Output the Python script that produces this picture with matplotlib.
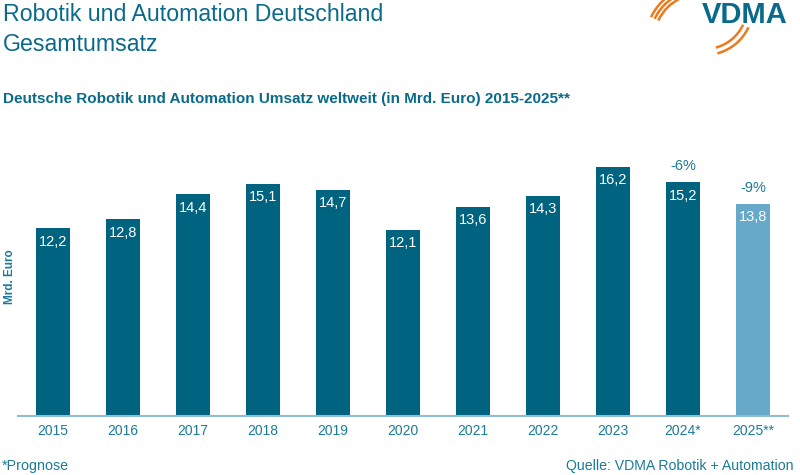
import matplotlib.pyplot as plt
from matplotlib.patches import Arc

plt.rcParams['font.family'] = ['Liberation Sans', 'DejaVu Sans']

years = ['2015', '2016', '2017', '2018', '2019', '2020', '2021', '2022', '2023', '2024*', '2025**']
umsatz = [12.2, 12.8, 14.4, 15.1, 14.7, 12.1, 13.6, 14.3, 16.2, 15.2, 13.8]
prognose = [False] * 10 + [True]
veraenderung = {9: '-6%', 10: '-9%'}

dark = '#00637f'
light = '#66a9c8'
teal = '#1b7b98'
title_col = '#0a6a8a'
orange = '#ec7a1c'

fig = plt.figure(figsize=(8, 4.75), dpi=100)
ax = fig.add_axes([0.0225, 0.1242, 0.9625, 0.648])

colors = [light if p else dark for p in prognose]
bars = ax.bar(range(len(years)), umsatz, width=0.485, color=colors)

for i, (b, v) in enumerate(zip(bars, umsatz)):
    ax.annotate(f'{v:.1f}'.replace('.', ','), (b.get_x() + b.get_width() / 2, v),
                xytext=(0, -13.5), textcoords='offset pixels',
                ha='center', va='center', color='white', fontsize=10.5)
    if i in veraenderung:
        ax.annotate(veraenderung[i], (b.get_x() + b.get_width() / 2, v),
                    xytext=(0, 16), textcoords='offset pixels',
                    ha='center', va='center', color=teal, fontsize=10.5)

ax.set_xlim(-0.5, 10.5)
ax.set_ylim(0, 20)
ax.set_xticks(range(len(years)))
ax.set_xticklabels(years, fontsize=10, color=teal)
ax.tick_params(axis='x', length=0, pad=6)
ax.set_yticks([])
for s in ['top', 'right', 'left']:
    ax.spines[s].set_visible(False)
ax.spines['bottom'].set_color('#8fbfcf')
ax.spines['bottom'].set_linewidth(1.5)

# texts and logo in pixel coordinates
ov = fig.add_axes([0, 0, 1, 1], facecolor='none')
ov.set_xlim(0, 800)
ov.set_ylim(0, 475)
ov.axis('off')

ov.text(3, 475 - 21, 'Robotik und Automation Deutschland', fontsize=16.7,
        color=title_col, va='baseline')
ov.text(3, 475 - 51, 'Gesamtumsatz', fontsize=16.7, color=title_col, va='baseline')
ov.text(3, 475 - 103, 'Deutsche Robotik und Automation Umsatz weltweit (in Mrd. Euro) 2015-2025**',
        fontsize=11, fontweight='bold', color=title_col, va='baseline')
ov.text(10, 475 - 277, 'Mrd. Euro', fontsize=8.5, fontweight='bold', color=teal,
        rotation=90, ha='center', va='center')
ov.text(2, 475 - 470, '*Prognose', fontsize=10.3, color=teal, va='baseline')
ov.text(793, 475 - 470, 'Quelle: VDMA Robotik + Automation', fontsize=10.2,
        color=teal, va='baseline', ha='right')

ov.text(702, 475 - 23, 'VDMA', fontsize=21, fontweight='bold', color='#0a6a8a',
        va='baseline')
for r in [46, 50, 54]:
    ov.add_patch(Arc((700, 435), 2 * r, 2 * r, theta1=115, theta2=155,
                     color=orange, lw=1.8))
for r in [42, 48]:
    ov.add_patch(Arc((705, 468), 2 * r, 2 * r, theta1=-75, theta2=-25,
                     color=orange, lw=1.8))

fig.savefig('out.png', dpi=100)
